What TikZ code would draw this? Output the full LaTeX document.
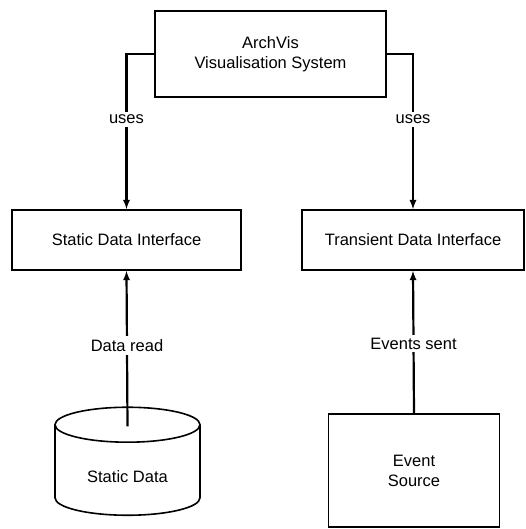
\documentclass[tikz,border=0pt]{standalone}
\usepackage{fontspec}
\setmainfont{Liberation Sans}
\usepackage{tikz}
\usetikzlibrary{shapes,shapes.geometric,arrows,calc,positioning}

\begin{document}
\begin{tikzpicture}[x=1pt,y=-1pt,
	  every node/.style={align=center,font=\fontsize{16.5}{20}\selectfont},
	  system/.style={draw,line width=1.6pt,minimum width=231pt,minimum height=86pt},
	  interface/.style={draw,line width=1.6pt,minimum height=60pt},
	  store/.style={draw,line width=1.6pt,cylinder,shape border rotate=90,aspect=0.4,minimum width=145pt,minimum height=108pt},
	  source/.style={draw,line width=1.6pt,minimum width=171pt,minimum height=113pt},
	  link/.style={->,>=latex,line width=2.2pt},
	  tag/.style={fill=white,inner sep=3pt}]

	  \useasboundingbox (0,0) rectangle (526,529);

	  % Position the nodes at fixed coordinates
	  \node[system] (archvis) at (270.5,54) {ArchVis\\Visualisation System};
	  \node[interface,minimum width=229pt] (staticif) at (126.5,240) {Static Data Interface};
	  \node[interface,minimum width=222pt] (transif) at (413,240) {Transient Data Interface};
	  \node[store] (staticdata) at (127.5,473) {\\Static Data};
	  \node[source] (eventsrc) at (414,470.5) {Event\\Source};
	  \coordinate (readfrom) at ($(staticdata.top)+(0,20)$);

	  \draw[link] (archvis.west) -| node[tag,pos=0.71] {uses} (staticif.north);
	  \draw[link] (archvis.east) -| node[tag,pos=0.71] {uses} (transif.north);
	  \draw[link] (readfrom) -- node[tag,pos=0.52] {Data read} (staticif.south);
	  \draw[link] (eventsrc.north) -- node[tag,pos=0.49] {Events sent} (transif.south);
\end{tikzpicture}
\end{document}
